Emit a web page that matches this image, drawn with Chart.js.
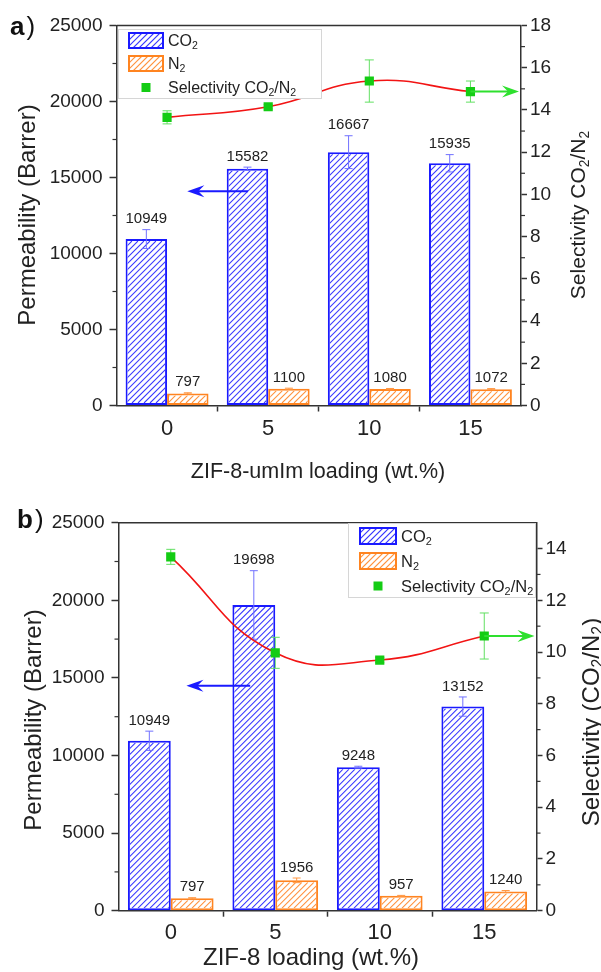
<!DOCTYPE html>
<html>
<head>
<meta charset="utf-8">
<script src="https://cdn.jsdelivr.net/npm/chart.js@4.4.1/dist/chart.umd.min.js"></script>
<style>
  body { margin: 0; background: #fff; }
  canvas { display: block; }
</style>
</head>
<body>
<canvas id="panelA" width="601" height="490"></canvas>
<canvas id="panelB" width="601" height="482"></canvas>
<script>
// ---- data ----
const loadings = ["0", "5", "10", "15"];

// a) ZIF-8-umIm
const co2A = [10949, 15582, 16667, 15935];
const co2ErrA = [620, 100, 1080, 570];
const n2A = [797, 1100, 1080, 1072];
const n2ErrA = [40, 40, 40, 40];
const selA = [13.65, 14.15, 15.37, 14.87];
const selErrA = [0.31, 0.1, 1.0, 0.5];

// b) ZIF-8
const co2B = [10949, 19698, 9248, 13152];
const co2ErrB = [620, 2210, 60, 620];
const n2B = [797, 1956, 957, 1240];
const n2ErrB = [40, 150, 30, 60];
const selB = [13.68, 9.97, 9.69, 10.62];
const selErrB = [0.29, 0.6, 0.1, 0.89];

const permTicks = [0, 5000, 10000, 15000, 20000, 25000];
const selTicksA = [0, 2, 4, 6, 8, 10, 12, 14, 16, 18];
const selTicksB = [0, 2, 4, 6, 8, 10, 12, 14];

// ---- style ----
const BLUE = "#1a1aff";
const ORANGE = "#ff8420";
const GREEN = "#14cc14";
const RED = "#f21414";
const AXIS = "#333";
const FONT = "'Liberation Sans', Arial, sans-serif";
const HATCH = ["#3a3aff", "#ff9440"];

Chart.defaults.font.family = FONT;
Chart.defaults.color = "#222";

// "/" hatch lines clipped to a rectangle
function hatchRect(ctx, x, y, w, h, color) {
  const gap = 6;
  ctx.save();
  ctx.beginPath();
  ctx.rect(x, y, w, h);
  ctx.clip();
  ctx.strokeStyle = color;
  ctx.lineWidth = 1.1;
  ctx.beginPath();
  const bottom = y + h;
  for (let k = Math.floor((x - h) / gap) * gap; k < x + w; k += gap) {
    ctx.moveTo(k, bottom);
    ctx.lineTo(k + h, y);
  }
  ctx.stroke();
  ctx.restore();
}

// "_x" means one subscript character
function richParts(str) {
  const parts = [];
  for (let i = 0; i < str.length; i++) {
    if (str[i] === "_") {
      parts.push([str[i + 1], true]);
      i++;
    } else if (parts.length && !parts[parts.length - 1][1]) {
      parts[parts.length - 1][0] += str[i];
    } else {
      parts.push([str[i], false]);
    }
  }
  return parts;
}

function drawRich(ctx, str, x, cy, size, align) {
  const parts = richParts(str);
  const sub = size * 0.66;
  const widths = parts.map(([t, s]) => {
    ctx.font = (s ? sub : size) + "px " + FONT;
    return ctx.measureText(t).width;
  });
  const total = widths.reduce((a, b) => a + b, 0);
  let cx = align === "center" ? x - total / 2 : x;
  const base = cy + size * 0.36;
  ctx.textAlign = "left";
  ctx.textBaseline = "alphabetic";
  parts.forEach(([t, s], i) => {
    ctx.font = (s ? sub : size) + "px " + FONT;
    ctx.fillText(t, cx, base + (s ? size * 0.2 : 0));
    cx += widths[i];
  });
}

function errorBar(ctx, x, yTop, yBot, cap, color) {
  ctx.strokeStyle = color;
  ctx.lineWidth = 1;
  ctx.beginPath();
  ctx.moveTo(x, yTop);
  ctx.lineTo(x, yBot);
  ctx.moveTo(x - cap, yTop);
  ctx.lineTo(x + cap, yTop);
  ctx.moveTo(x - cap, yBot);
  ctx.lineTo(x + cap, yBot);
  ctx.stroke();
}

function arrow(ctx, x1, y, x2, color) {
  const dir = Math.sign(x2 - x1);
  ctx.strokeStyle = color;
  ctx.fillStyle = color;
  ctx.lineWidth = 2;
  ctx.beginPath();
  ctx.moveTo(x1, y);
  ctx.lineTo(x2 - dir * 10, y);
  ctx.stroke();
  ctx.beginPath();
  ctx.moveTo(x2, y);
  ctx.lineTo(x2 - dir * 17, y - 6);
  ctx.lineTo(x2 - dir * 11, y);
  ctx.lineTo(x2 - dir * 17, y + 6);
  ctx.closePath();
  ctx.fill();
}

function line(ctx, x1, y1, x2, y2) {
  ctx.beginPath();
  ctx.moveTo(x1, y1);
  ctx.lineTo(x2, y2);
  ctx.stroke();
}

function midpoints(ticks) {
  return ticks.slice(1).map((v, i) => (v + ticks[i]) / 2);
}

function decor(p) {
  return {
    id: "decor",
    beforeDatasetDraw(chart, args) {
      if (args.index !== 2) return;
      const ctx = chart.ctx;
      const y2 = chart.scales.y2;
      ctx.save();
      chart.getDatasetMeta(2).data.forEach((pt, i) => {
        errorBar(ctx, pt.x, y2.getPixelForValue(p.sel[i] + p.selErr[i]),
          y2.getPixelForValue(p.sel[i] - p.selErr[i]), 4.5, "#62e062");
      });
      ctx.restore();
    },
    afterDatasetDraw(chart, args) {
      if (args.index > 1) return;
      const ctx = chart.ctx;
      const y = chart.scales.y;
      const vals = args.index === 0 ? p.co2 : p.n2;
      const errs = args.index === 0 ? p.co2Err : p.n2Err;
      const color = args.index === 0 ? "#7070ff" : "#ff9640";
      ctx.save();
      chart.getDatasetMeta(args.index).data.forEach((bar, i) => {
        const b = bar.getProps(["x", "y", "base", "width"], true);
        const top = Math.min(b.y, b.base);
        const h = Math.abs(b.base - b.y);
        hatchRect(ctx, b.x - b.width / 2 + 2, top + 2, b.width - 4, h - 4, HATCH[args.index]);
        errorBar(ctx, bar.x, y.getPixelForValue(vals[i] + errs[i]),
          y.getPixelForValue(vals[i] - errs[i]), 4, color);
      });
      ctx.restore();
    },
    afterDatasetsDraw(chart) {
      const ctx = chart.ctx;
      const { x, y, y2 } = chart.scales;
      const area = chart.chartArea;
      ctx.save();
      // value labels
      ctx.fillStyle = "#222";
      ctx.font = p.valueSize + "px " + FONT;
      ctx.textAlign = "center";
      ctx.textBaseline = "bottom";
      [[p.co2, p.co2Err], [p.n2, p.n2Err]].forEach(([vals, errs], d) => {
        chart.getDatasetMeta(d).data.forEach((bar, i) => {
          ctx.fillText(String(vals[i]), bar.x, y.getPixelForValue(vals[i] + errs[i]) - 3);
        });
      });
      // arrows
      const ba = p.blueArrow;
      arrow(ctx, x.getPixelForValue(ba.from), y.getPixelForValue(ba.y), x.getPixelForValue(ba.to), BLUE);
      const last = p.sel.length - 1;
      arrow(ctx, x.getPixelForValue(last), y2.getPixelForValue(p.sel[last]), area.right - 2, "#2ee02e");
      ctx.restore();
    },
    afterDraw(chart) {
      const ctx = chart.ctx;
      const { y, y2 } = chart.scales;
      const a = chart.chartArea;
      ctx.save();
      ctx.strokeStyle = AXIS;
      ctx.lineWidth = 1.5;
      line(ctx, a.left, a.top, a.right, a.top);
      ctx.lineWidth = 1.2;
      midpoints(permTicks).forEach(v => {
        const py = y.getPixelForValue(v);
        line(ctx, a.left - 4, py, a.left, py);
      });
      midpoints(p.selTicks).forEach(v => {
        const py = y2.getPixelForValue(v);
        line(ctx, a.right, py, a.right + 4, py);
      });

      // legend
      const L = p.legend;
      ctx.fillStyle = "#fff";
      ctx.fillRect(L.x, L.y, L.w, L.h);
      ctx.strokeStyle = "#d6d6d6";
      ctx.lineWidth = 1;
      ctx.strokeRect(L.x + 0.5, L.y + 0.5, L.w - 1, L.h - 1);
      [BLUE, ORANGE].forEach((col, r) => {
        const top = Math.round(L.rows[r] - L.sh / 2);
        hatchRect(ctx, L.sx, top, L.sw, L.sh, HATCH[r]);
        ctx.strokeStyle = col;
        ctx.lineWidth = 2;
        ctx.strokeRect(L.sx + 1, top + 1, L.sw - 2, L.sh - 2);
      });
      ctx.fillStyle = GREEN;
      ctx.fillRect(L.sx + L.sw / 2 - 4.5, L.rows[2] - 4.5, 9, 9);
      ctx.fillStyle = "#222";
      ["CO_2", "N_2", "Selectivity CO_2/N_2"].forEach((t, r) => {
        drawRich(ctx, t, L.tx, L.rows[r], L.size, "left");
      });

      // axis titles
      const T = p.titles;
      ctx.fillStyle = "#222";
      drawRich(ctx, T.x.text, T.x.cx, T.x.cy, T.x.size, "center");
      [T.left, T.right].forEach(t => {
        ctx.save();
        ctx.translate(t.cx, t.cy);
        ctx.rotate(-Math.PI / 2);
        drawRich(ctx, t.text, 0, 0, t.size, "center");
        ctx.restore();
      });

      // panel label
      ctx.fillStyle = "#111";
      ctx.textAlign = "left";
      ctx.textBaseline = "alphabetic";
      ctx.font = "bold " + p.tag.size + "px " + FONT;
      ctx.fillText(p.tag.text, p.tag.x, p.tag.y);
      const w = ctx.measureText(p.tag.text).width;
      ctx.font = p.tag.size + "px " + FONT;
      ctx.fillText(")", p.tag.x + w + 2, p.tag.y);
      ctx.restore();
    }
  };
}

function makePanel(p) {
  const canvas = document.getElementById(p.id);
  const W = canvas.width;
  const H = canvas.height;
  const area = p.area;

  return new Chart(canvas, {
    type: "bar",
    data: {
      labels: loadings,
      datasets: [
        {
          label: "CO2",
          data: p.co2,
          yAxisID: "y",
          backgroundColor: "#fff",
          borderColor: BLUE,
          borderWidth: 2,
          borderSkipped: false,
          categoryPercentage: 0.82,
          barPercentage: 1,
          order: 2
        },
        {
          label: "N2",
          data: p.n2,
          yAxisID: "y",
          backgroundColor: "#fff",
          borderColor: ORANGE,
          borderWidth: 2,
          borderSkipped: false,
          categoryPercentage: 0.82,
          barPercentage: 1,
          order: 2
        },
        {
          type: "line",
          label: "Selectivity CO2/N2",
          data: p.sel,
          yAxisID: "y2",
          borderColor: RED,
          borderWidth: 1.6,
          tension: 0.45,
          fill: false,
          pointStyle: "rect",
          pointRadius: 6.5,
          pointBackgroundColor: GREEN,
          pointBorderColor: GREEN,
          pointBorderWidth: 0,
          order: 1
        }
      ]
    },
    options: {
      responsive: false,
      animation: false,
      layout: { padding: { top: area.top, left: 0, right: 0, bottom: 0 } },
      plugins: { legend: { display: false }, tooltip: { enabled: false } },
      scales: {
        x: {
          offset: true,
          grid: {
            offset: true,
            drawOnChartArea: false,
            tickLength: 6,
            tickWidth: 1.5,
            tickColor: c => (c.index > 0 && c.index < loadings.length ? AXIS : "transparent")
          },
          border: { color: AXIS, width: 1.5 },
          ticks: { font: { size: p.xTickSize }, color: "#222", padding: p.xTickPad },
          afterFit: s => { s.height = H - area.bottom; }
        },
        y: {
          position: "left",
          min: 0,
          max: 25000,
          afterBuildTicks: s => { s.ticks = permTicks.map(v => ({ value: v })); },
          grid: { drawOnChartArea: false, tickLength: 7, tickWidth: 1.5, tickColor: AXIS },
          border: { color: AXIS, width: 1.5 },
          ticks: { font: { size: p.yTickSize }, color: "#222", padding: 7, callback: v => String(v) },
          afterFit: s => { s.width = area.left; }
        },
        y2: {
          position: "right",
          min: 0,
          max: p.selMax,
          afterBuildTicks: s => { s.ticks = p.selTicks.map(v => ({ value: v })); },
          grid: { drawOnChartArea: false, tickLength: 6, tickWidth: 1.5, tickColor: AXIS },
          border: { color: AXIS, width: 1.5 },
          ticks: { font: { size: p.yTickSize }, color: "#222", padding: 3, callback: v => String(v) },
          afterFit: s => { s.width = W - area.right; }
        }
      }
    },
    plugins: [decor(p)]
  });
}

makePanel({
  id: "panelA",
  co2: co2A, co2Err: co2ErrA, n2: n2A, n2Err: n2ErrA, sel: selA, selErr: selErrA,
  selMax: 18, selTicks: selTicksA,
  area: { left: 116.5, right: 521, top: 25.5, bottom: 405.5 },
  xTickSize: 22, xTickPad: 4, yTickSize: 19, valueSize: 15,
  blueArrow: { y: 14100, from: 0.8, to: 0.2 },
  legend: { x: 118, y: 29, w: 204, h: 70, sx: 128, sw: 36, sh: 17, rows: [40, 63.5, 87.5], tx: 168, size: 16 },
  titles: {
    x: { text: "ZIF-8-umIm loading (wt.%)", cx: 318, cy: 470, size: 21.5 },
    left: { text: "Permeability (Barrer)", cx: 26, cy: 215, size: 24 },
    right: { text: "Selectivity CO_2/N_2", cx: 577, cy: 215, size: 21 }
  },
  tag: { text: "a", x: 10, y: 35, size: 26 }
});

makePanel({
  id: "panelB",
  co2: co2B, co2Err: co2ErrB, n2: n2B, n2Err: n2ErrB, sel: selB, selErr: selErrB,
  selMax: 15, selTicks: selTicksB,
  area: { left: 118.5, right: 536.5, top: 32.7, bottom: 420.7 },
  xTickSize: 22, xTickPad: 3, yTickSize: 19, valueSize: 15,
  blueArrow: { y: 14500, from: 0.76, to: 0.15 },
  legend: { x: 348, y: 33, w: 188, h: 75, sx: 359, sw: 38, sh: 18, rows: [46, 71, 96], tx: 401, size: 16.5 },
  titles: {
    x: { text: "ZIF-8 loading (wt.%)", cx: 311, cy: 466.7, size: 24 },
    left: { text: "Permeability (Barrer)", cx: 32, cy: 230, size: 24 },
    right: { text: "Selectivity (CO_2/N_2)", cx: 590, cy: 232, size: 24 }
  },
  tag: { text: "b", x: 17, y: 38, size: 26 }
});
</script>
</body>
</html>
